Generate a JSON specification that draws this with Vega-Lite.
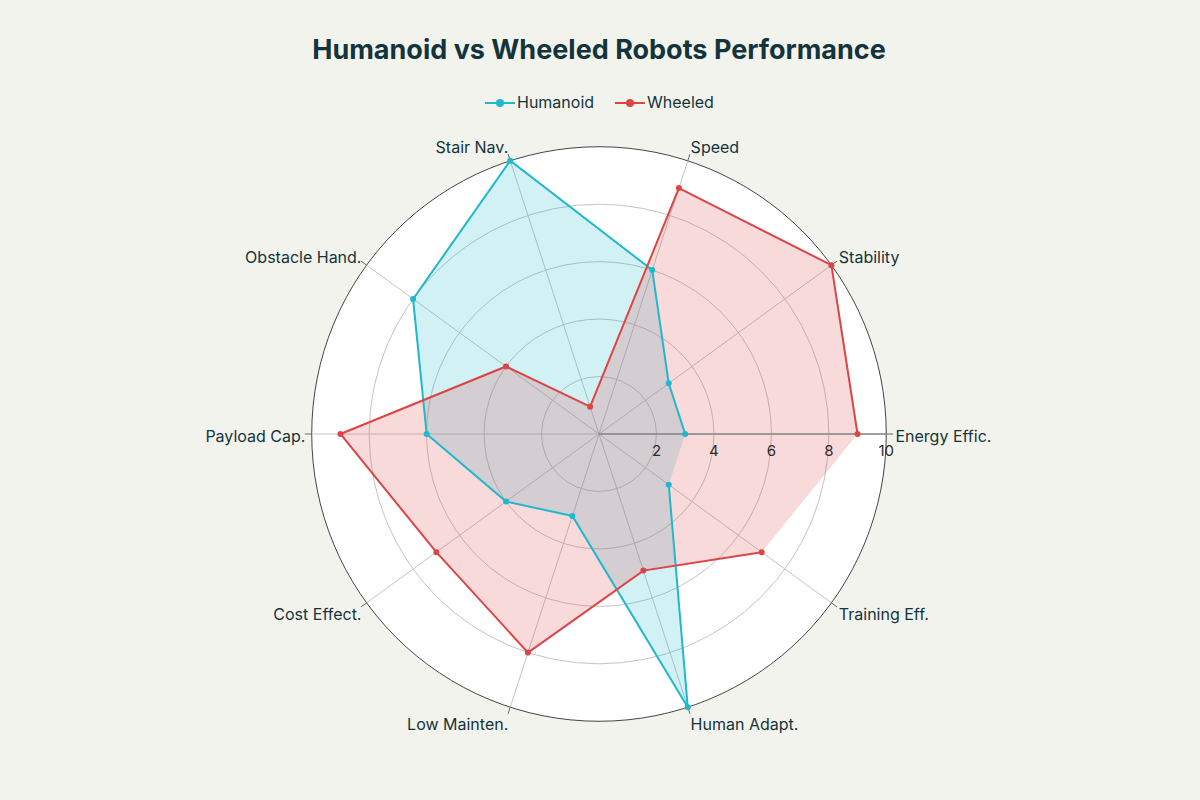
{
  "$schema": "https://vega.github.io/schema/vega-lite/v6.json",
  "autosize": {"type": "none"},
  "padding": {"left": 283, "top": 118, "right": 285, "bottom": 50},
  "width": 632,
  "height": 632,
  "background": "#F3F3EE",
  "config": {
    "view": {"stroke": null},
    "font": "Inter",
    "text": {"font": "Inter"}
  },
  "title": {
    "text": "Humanoid vs Wheeled Robots Performance",
    "font": "Inter",
    "fontSize": 27,
    "fontWeight": "bold",
    "color": "#13343B",
    "anchor": "middle",
    "frame": "group",
    "offset": 27
  },
  "datasets": {
    "scores": [
      {"cat": "Energy Effic.", "k": 0, "robot": "Humanoid", "v": 3},
      {"cat": "Stability", "k": 1, "robot": "Humanoid", "v": 3},
      {"cat": "Speed", "k": 2, "robot": "Humanoid", "v": 6},
      {"cat": "Stair Nav.", "k": 3, "robot": "Humanoid", "v": 10},
      {"cat": "Obstacle Hand.", "k": 4, "robot": "Humanoid", "v": 8},
      {"cat": "Payload Cap.", "k": 5, "robot": "Humanoid", "v": 6},
      {"cat": "Cost Effect.", "k": 6, "robot": "Humanoid", "v": 4},
      {"cat": "Low Mainten.", "k": 7, "robot": "Humanoid", "v": 3},
      {"cat": "Human Adapt.", "k": 8, "robot": "Humanoid", "v": 10},
      {"cat": "Training Eff.", "k": 9, "robot": "Humanoid", "v": 3},
      {"cat": "Energy Effic.", "k": 0, "robot": "Wheeled", "v": 9},
      {"cat": "Stability", "k": 1, "robot": "Wheeled", "v": 10},
      {"cat": "Speed", "k": 2, "robot": "Wheeled", "v": 9},
      {"cat": "Stair Nav.", "k": 3, "robot": "Wheeled", "v": 1},
      {"cat": "Obstacle Hand.", "k": 4, "robot": "Wheeled", "v": 4},
      {"cat": "Payload Cap.", "k": 5, "robot": "Wheeled", "v": 9},
      {"cat": "Cost Effect.", "k": 6, "robot": "Wheeled", "v": 7},
      {"cat": "Low Mainten.", "k": 7, "robot": "Wheeled", "v": 8},
      {"cat": "Human Adapt.", "k": 8, "robot": "Wheeled", "v": 5},
      {"cat": "Training Eff.", "k": 9, "robot": "Wheeled", "v": 7}
    ],
    "cats": [
      {"cat": "Energy Effic.", "k": 0},
      {"cat": "Stability", "k": 1},
      {"cat": "Speed", "k": 2},
      {"cat": "Stair Nav.", "k": 3},
      {"cat": "Obstacle Hand.", "k": 4},
      {"cat": "Payload Cap.", "k": 5},
      {"cat": "Cost Effect.", "k": 6},
      {"cat": "Low Mainten.", "k": 7},
      {"cat": "Human Adapt.", "k": 8},
      {"cat": "Training Eff.", "k": 9}
    ],
    "rings": [{"r": 2}, {"r": 4}, {"r": 6}, {"r": 8}, {"r": 10}]
  },
  "layer": [
    {
      "data": {"values": [{"r": 10}]},
      "mark": {"type": "arc", "theta": 0, "theta2": 6.2832, "fill": "white", "stroke": "#444444", "strokeWidth": 1},
      "encoding": {
        "radius": {"field": "r", "type": "quantitative", "stack": null, "scale": {"type": "linear", "domain": [0, 11], "range": [0, 316], "zero": true}}
      }
    },
    {
      "data": {"name": "rings"},
      "transform": [{"filter": "datum.r < 10"}],
      "mark": {"type": "arc", "theta": 0, "theta2": 6.2832, "filled": false, "stroke": "#C4C4C4", "strokeWidth": 1},
      "encoding": {
        "radius": {"field": "r", "type": "quantitative", "stack": null, "scale": {"type": "linear", "domain": [0, 11], "range": [0, 316], "zero": true}}
      }
    },
    {
      "data": {"name": "cats"},
      "transform": [
        {"calculate": "datum.k * PI / 5", "as": "a"},
        {"calculate": "0", "as": "sx"},
        {"calculate": "0", "as": "sy"},
        {"calculate": "10 * cos(datum.a)", "as": "ex"},
        {"calculate": "10 * sin(datum.a)", "as": "ey"}
      ],
      "mark": {"type": "rule", "stroke": "#C4C4C4", "strokeWidth": 1},
      "encoding": {
        "x": {"field": "sx", "type": "quantitative", "scale": {"domain": [-11, 11], "nice": false, "zero": false}, "axis": null},
        "y": {"field": "sy", "type": "quantitative", "scale": {"domain": [-11, 11], "nice": false, "zero": false}, "axis": null},
        "x2": {"field": "ex"},
        "y2": {"field": "ey"}
      }
    },
    {
      "data": {"name": "cats"},
      "transform": [
        {"calculate": "datum.k * PI / 5", "as": "a"},
        {"calculate": "10 * cos(datum.a)", "as": "sx"},
        {"calculate": "10 * sin(datum.a)", "as": "sy"},
        {"calculate": "10.24 * cos(datum.a)", "as": "ex"},
        {"calculate": "10.24 * sin(datum.a)", "as": "ey"}
      ],
      "mark": {"type": "rule", "stroke": "#666666", "strokeWidth": 1},
      "encoding": {
        "x": {"field": "sx", "type": "quantitative", "axis": null},
        "y": {"field": "sy", "type": "quantitative", "axis": null},
        "x2": {"field": "ex"},
        "y2": {"field": "ey"}
      }
    },
    {
      "data": {"name": "scores"},
      "transform": [
        {"calculate": "datum.k * PI / 5", "as": "a"},
        {"calculate": "datum.v * cos(datum.a)", "as": "px"},
        {"calculate": "datum.v * sin(datum.a)", "as": "py"}
      ],
      "mark": {"type": "line", "filled": true, "fillOpacity": 0.2, "strokeWidth": 0, "interpolate": "linear"},
      "encoding": {
        "x": {"field": "px", "type": "quantitative", "axis": null},
        "y": {"field": "py", "type": "quantitative", "axis": null},
        "order": {"field": "k", "type": "quantitative"},
        "color": {
          "field": "robot",
          "type": "nominal",
          "scale": {"domain": ["Humanoid", "Wheeled"], "range": ["#1FB8CD", "#DB4545"]},
          "legend": {
            "title": null,
            "orient": "none",
            "direction": "horizontal",
            "legendX": 206,
            "legendY": -26,
            "symbolType": "M-1.5,0L1.5,0M0.3,0A0.3,0.3 0 1,1 -0.3,0A0.3,0.3 0 1,1 0.3,0",
            "symbolSize": 400,
            "symbolStrokeWidth": 2,
            "labelFont": "Inter",
            "labelFontSize": 16,
            "labelColor": "#13343B",
            "labelOffset": 6,
            "columnPadding": 16,
            "encode": {"symbols": {"update": {"fill": {"scale": "color", "field": "value"}, "fillOpacity": {"value": 1}, "stroke": {"scale": "color", "field": "value"}}}}
          }
        }
      }
    },
    {
      "data": {"name": "cats"},
      "transform": [
        {"filter": "datum.k == 0"},
        {"calculate": "0", "as": "sx"},
        {"calculate": "10", "as": "ex"},
        {"calculate": "0", "as": "sy"}
      ],
      "mark": {"type": "rule", "stroke": "#888888", "strokeWidth": 1.5},
      "encoding": {
        "x": {"field": "sx", "type": "quantitative", "axis": null},
        "x2": {"field": "ex"},
        "y": {"field": "sy", "type": "quantitative", "axis": null}
      }
    },
    {
      "data": {"name": "scores"},
      "transform": [
        {"calculate": "datum.k * PI / 5", "as": "a"},
        {"calculate": "datum.v * cos(datum.a)", "as": "px"},
        {"calculate": "datum.v * sin(datum.a)", "as": "py"}
      ],
      "mark": {"type": "line", "strokeWidth": 2, "interpolate": "linear", "point": {"filled": true, "size": 36, "opacity": 1}},
      "encoding": {
        "x": {"field": "px", "type": "quantitative", "axis": null},
        "y": {"field": "py", "type": "quantitative", "axis": null},
        "order": {"field": "k", "type": "quantitative"},
        "color": {
          "field": "robot",
          "type": "nominal",
          "scale": {"domain": ["Humanoid", "Wheeled"], "range": ["#1FB8CD", "#DB4545"]},
          "legend": {
            "title": null,
            "orient": "none",
            "direction": "horizontal",
            "legendX": 206,
            "legendY": -26,
            "symbolType": "M-1.5,0L1.5,0M0.3,0A0.3,0.3 0 1,1 -0.3,0A0.3,0.3 0 1,1 0.3,0",
            "symbolSize": 400,
            "symbolStrokeWidth": 2,
            "labelFont": "Inter",
            "labelFontSize": 16,
            "labelColor": "#13343B",
            "labelOffset": 6,
            "columnPadding": 16,
            "encode": {"symbols": {"update": {"fill": {"scale": "color", "field": "value"}, "fillOpacity": {"value": 1}, "stroke": {"scale": "color", "field": "value"}}}}
          }
        }
      }
    },
    {
      "data": {"name": "rings"},
      "transform": [{"calculate": "-0.6", "as": "ty"}],
      "mark": {"type": "text", "font": "Inter", "fontSize": 15, "color": "#2B2B2B", "align": "center", "baseline": "middle"},
      "encoding": {
        "x": {"field": "r", "type": "quantitative", "axis": null},
        "y": {"field": "ty", "type": "quantitative", "axis": null},
        "text": {"field": "r", "type": "quantitative"}
      }
    },
    {
      "data": {"name": "cats"},
      "transform": [
        {"calculate": "datum.k * PI / 5", "as": "a"},
        {"filter": "cos(datum.a) > 0"},
        {"calculate": "10.32 * cos(datum.a)", "as": "lx"},
        {"calculate": "10.56 * sin(datum.a) - 0.09", "as": "ly"}
      ],
      "mark": {"type": "text", "font": "Inter", "fontSize": 16, "color": "#13343B", "align": "left", "baseline": "middle"},
      "encoding": {
        "x": {"field": "lx", "type": "quantitative", "axis": null},
        "y": {"field": "ly", "type": "quantitative", "axis": null},
        "text": {"field": "cat", "type": "nominal"}
      }
    },
    {
      "data": {"name": "cats"},
      "transform": [
        {"calculate": "datum.k * PI / 5", "as": "a"},
        {"filter": "cos(datum.a) < 0"},
        {"calculate": "10.22 * cos(datum.a)", "as": "lx"},
        {"calculate": "10.56 * sin(datum.a) - 0.09", "as": "ly"}
      ],
      "mark": {"type": "text", "font": "Inter", "fontSize": 16, "color": "#13343B", "align": "right", "baseline": "middle"},
      "encoding": {
        "x": {"field": "lx", "type": "quantitative", "axis": null},
        "y": {"field": "ly", "type": "quantitative", "axis": null},
        "text": {"field": "cat", "type": "nominal"}
      }
    }
  ]
}
